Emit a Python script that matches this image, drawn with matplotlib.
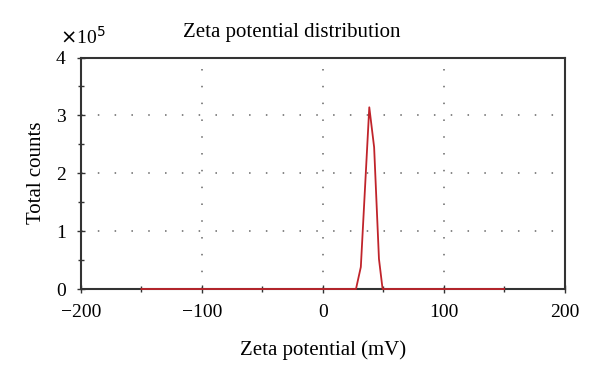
import matplotlib
matplotlib.use("Agg")
import matplotlib.pyplot as plt
from matplotlib.ticker import MultipleLocator

zeta_mv = [-150, 27.5, 31.5, 38.5, 42.5, 46.5, 49.5, 150]
counts_e5 = [0.0, 0.0, 0.38, 3.14, 2.45, 0.52, 0.0, 0.0]

x_ticks = [-200, -100, 0, 100, 200]
x_labels = ["\u2212200", "\u2212100", "0", "100", "200"]
y_ticks = [0, 1, 2, 3, 4]

plt.rcParams['font.family'] = ['Liberation Serif', 'DejaVu Serif']

fig = plt.figure(figsize=(6.0, 3.79), dpi=100)
ax = fig.add_axes([81/600, 1 - 289/379, (564.5 - 81)/600, (289 - 57.5)/379])

ax.plot(zeta_mv, counts_e5, color='#c0242b', lw=1.3, zorder=5, clip_on=False)

ax.set_xlim(-200, 200)
ax.set_ylim(0, 4)
ax.set_xticks(x_ticks)
ax.set_xticklabels(x_labels)
ax.set_yticks(y_ticks)
ax.xaxis.set_minor_locator(MultipleLocator(50))
ax.yaxis.set_minor_locator(MultipleLocator(0.5))
ax.tick_params(which='both', direction='inout', labelsize=14, color='#333333',
               top=False, right=False, width=1.0)
ax.tick_params(which='major', length=6)
ax.tick_params(which='minor', length=5)
ax.tick_params(axis='x', which='major', pad=8)
ax.tick_params(axis='y', which='major', pad=8)

for v in [-100, 0, 100]:
    ax.axvline(v, color='#666666', lw=1.1, linestyle=(0, (1, 10)), zorder=1)
for v in [1, 2, 3]:
    ax.axhline(v, color='#666666', lw=1.1, linestyle=(0, (1, 10)), zorder=1)

for s in ax.spines.values():
    s.set_color('#333333')
    s.set_linewidth(1.5)

ax.set_xlabel("Zeta potential (mV)", fontsize=15, labelpad=14)
ax.set_ylabel("Total counts", fontsize=15, labelpad=7)
fig.text(292/600, 1 - 32/379, "Zeta potential distribution", fontsize=15,
         ha='center', va='center')
fig.text(60/600, 1 - 37/379, r"$\times$10$^{5}$", fontsize=14, ha='left', va='center')

fig.savefig("out.png", dpi=100)
